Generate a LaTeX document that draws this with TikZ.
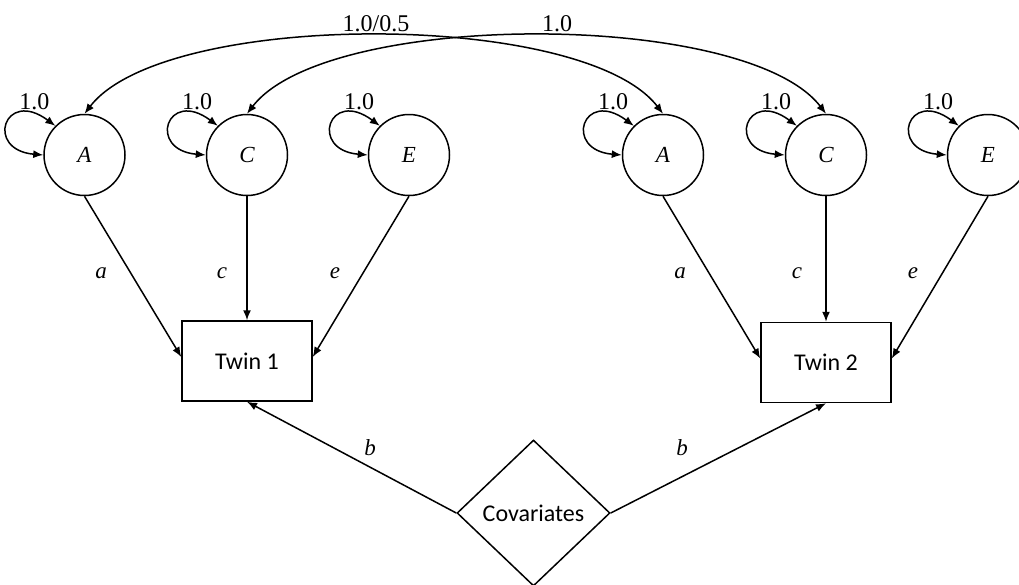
\documentclass[tikz,border=0pt]{standalone}
\usepackage{fontspec}
\setmainfont{Liberation Serif}
\newfontfamily\boxfont{Carlito}
\usetikzlibrary{arrows.meta,shapes.geometric,calc}

% double-headed variance loop on the upper-left of a latent node, with its label
\newcommand\varloop[1]{%
  \draw[<->] (#1.west) .. controls +(-59,-5) and +(-51,-38) .. (#1.135);
  \node[lab] (v#1) at ($(#1)+(-50,-46)$) {1.0};
}

\begin{document}
\begin{tikzpicture}[x=1pt,y=-1pt,line width=1.5pt,
  >={Latex[length=10pt,width=8pt]},
  latent/.style={circle,draw,minimum size=81pt,inner sep=0pt,
    font=\fontsize{23}{27}\selectfont\itshape},
  manifest/.style={rectangle,draw,minimum width=130pt,minimum height=80pt,
    inner sep=0pt,font=\boxfont\fontsize{24}{28}\selectfont},
  covbox/.style={diamond,draw,minimum width=153pt,minimum height=146pt,
    inner sep=0pt,font=\boxfont\fontsize{24}{28}\selectfont},
  lab/.style={inner sep=0pt,anchor=base,font=\fontsize{24}{28}\selectfont},
  coef/.style={inner sep=0pt,anchor=base,font=\fontsize{23}{27}\selectfont\itshape}]

\useasboundingbox (0,0) rectangle (1019,584);
\clip (0,0) rectangle (1019,584);

% latent factors, twin 1
\node[latent] (A1) at (84.5,155) {A};
\node[latent] (C1) at (247,155) {C};
\node[latent] (E1) at (409,155) {E};
% latent factors, twin 2
\node[latent] (A2) at (663,155) {A};
\node[latent] (C2) at (826,155) {C};
\node[latent] (E2) at (988,155) {E};

% observed phenotypes and covariates
\node[manifest] (T1) at (247,361) {Twin 1};
\node[manifest] (T2) at (826,362.5) {Twin 2};
\node[covbox] (Cov) at (533.5,513) {Covariates};

% variances
\varloop{A1}
\varloop{C1}
\varloop{E1}
\varloop{A2}
\varloop{C2}
\varloop{E2}

% cross-twin correlations
\draw[<->] (A1.north) .. controls +(80,-104) and +(-80,-104) .. (A2.north);
\draw[<->] (C1.north) .. controls +(80,-104) and +(-80,-104) .. (C2.north);
\node[lab] (rA) at (376,31.5) {1.0/0.5};
\node[lab] (rC) at (557,31.5) {1.0};

% path coefficients
\draw[->] (A1.south) -- ([yshift=4pt]T1.west);
\draw[->] (C1.south) -- (T1.north);
\draw[->] (E1.south) -- ([yshift=4pt]T1.east);
\draw[->] (A2.south) -- ([yshift=4pt]T2.west);
\draw[->] (C2.south) -- (T2.north);
\draw[->] (E2.south) -- ([yshift=4pt]T2.east);
\draw[->] (Cov.west) -- (T1.south);
\draw[->] (Cov.east) -- (T2.south);

\node[coef] (pa1) at (101,278) {a};
\node[coef] (pc1) at (222,278) {c};
\node[coef] (pe1) at (335,278) {e};
\node[coef] (pa2) at (680,278) {a};
\node[coef] (pc2) at (797,278) {c};
\node[coef] (pe2) at (913,278) {e};
\node[coef] (pb1) at (370,455) {b};
\node[coef] (pb2) at (682,455) {b};

\end{tikzpicture}
\end{document}
